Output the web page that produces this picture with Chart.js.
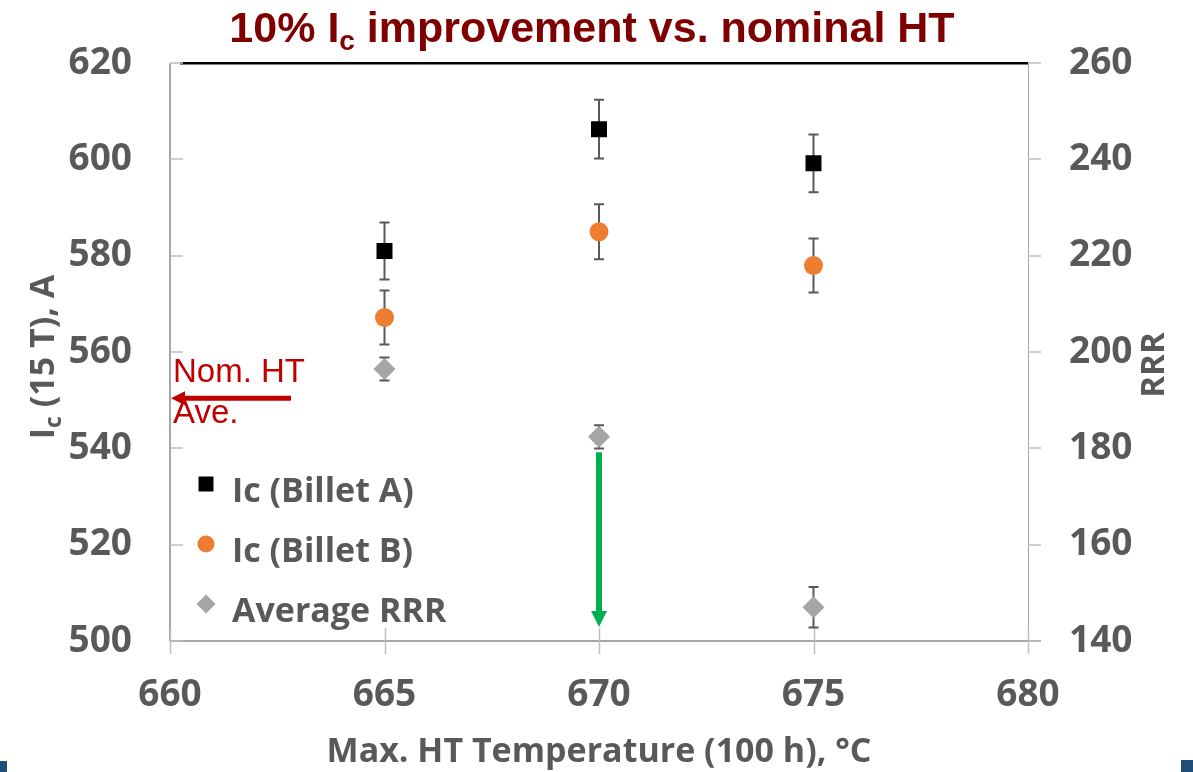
<!DOCTYPE html>
<html>
<head>
<meta charset="utf-8">
<title>Ic vs HT temperature</title>
<script src="https://cdn.jsdelivr.net/npm/chart.js@4.4.1/dist/chart.umd.min.js"></script>
<style>
  html, body { margin: 0; padding: 0; background: #fff; }
  #wrap { position: relative; width: 1193px; height: 772px; overflow: hidden; }
  .corner { position: absolute; background: #1f4e79; }
</style>
</head>
<body>
<div id="wrap">
  <canvas id="c" width="1193" height="772"></canvas>
  <div class="corner" style="left:0;top:761px;width:7px;height:11px"></div>
  <div class="corner" style="left:1181px;top:760px;width:12px;height:12px"></div>
</div>
<script>
// measured points, heat treatment at 665/670/675 C for 100 h
const temps = [665, 670, 675];
const icA = [581.0, 606.3, 599.2];
const icAErr = [5.9, 6.1, 6.0];
const icB = [567.2, 585.0, 578.0];
const icBErr = [5.6, 5.7, 5.6];
const rrr = [196.5, 182.4, 147.0];
const rrrErr = [2.4, 2.4, 4.2];

const xTicks = [660, 665, 670, 675, 680];
const icTicks = [500, 520, 540, 560, 580, 600, 620];
const rrrTicks = [140, 160, 180, 200, 220, 240, 260];

// nominal HT average Ic and the drop marker at 670
const nominalIc = 550.4;
const dropFrom = 539.2, dropTo = 502.9;

const GRAY = '#595959';
const FAM = '"Open Sans", sans-serif';
const TICK_FONT = { family: '"Open Sans"', size: 37, weight: 'bold' };

function pts(ys) {
  return temps.map((t, i) => ({ x: t, y: ys[i] }));
}

const errs = [icAErr, icBErr, rrrErr];

const decor = {
  id: 'decor',
  beforeDatasetsDraw(chart) {
    const ctx = chart.ctx, a = chart.chartArea;
    const xs = chart.scales.x, yl = chart.scales.y, yr = chart.scales.y2;
    ctx.save();
    // frame
    ctx.strokeStyle = '#a6a6a6';
    ctx.lineWidth = 2;
    ctx.beginPath();
    ctx.moveTo(a.left, a.top); ctx.lineTo(a.left, a.bottom);
    ctx.moveTo(a.left, a.bottom); ctx.lineTo(a.right + 13, a.bottom);
    ctx.stroke();
    ctx.lineWidth = 1;
    ctx.beginPath();
    ctx.moveTo(a.right + 0.5, a.top); ctx.lineTo(a.right + 0.5, a.bottom);
    ctx.stroke();
    ctx.strokeStyle = '#000';
    ctx.lineWidth = 2.5;
    ctx.beginPath();
    ctx.moveTo(a.left + 10, a.top); ctx.lineTo(a.right, a.top);
    ctx.stroke();
    // tick marks
    ctx.strokeStyle = '#bfbfbf';
    ctx.lineWidth = 1.5;
    ctx.beginPath();
    xTicks.forEach(v => {
      const px = Math.round(xs.getPixelForValue(v)) + 0.5;
      ctx.moveTo(px, a.bottom - 13); ctx.lineTo(px, a.bottom + 13);
    });
    icTicks.forEach(v => {
      const py = Math.round(yl.getPixelForValue(v));
      ctx.moveTo(a.left, py); ctx.lineTo(a.left + 13, py);
    });
    rrrTicks.forEach(v => {
      const py = Math.round(yr.getPixelForValue(v));
      ctx.moveTo(a.right, py); ctx.lineTo(a.right + 13, py);
    });
    ctx.stroke();
    // error bars
    ctx.strokeStyle = GRAY;
    ctx.lineWidth = 2;
    chart.data.datasets.forEach((ds, di) => {
      const ys = chart.scales[ds.yAxisID];
      ds.data.forEach((p, i) => {
        const px = xs.getPixelForValue(p.x);
        const top = ys.getPixelForValue(p.y + errs[di][i]);
        const bot = ys.getPixelForValue(p.y - errs[di][i]);
        ctx.beginPath();
        ctx.moveTo(px, top); ctx.lineTo(px, bot);
        ctx.moveTo(px - 5, top); ctx.lineTo(px + 5, top);
        ctx.moveTo(px - 5, bot); ctx.lineTo(px + 5, bot);
        ctx.stroke();
      });
    });
    ctx.restore();
  },
  afterDraw(chart) {
    const ctx = chart.ctx, a = chart.chartArea;
    const xs = chart.scales.x, yl = chart.scales.y;
    ctx.save();

    // title with subscript
    ctx.fillStyle = '#7f0000';
    ctx.textBaseline = 'alphabetic';
    const big = 'bold 43px "Liberation Sans", Arial, sans-serif';
    const sub = 'bold 28px "Liberation Sans", Arial, sans-serif';
    const parts = [['10% I', big, 0], ['c', sub, 8], [' improvement vs. nominal HT', big, 0]];
    let w = 0;
    parts.forEach(p => { ctx.font = p[1]; w += ctx.measureText(p[0]).width; });
    let tx = 592 - w / 2;
    parts.forEach(p => {
      ctx.font = p[1];
      ctx.fillText(p[0], tx, 42 + p[2]);
      tx += ctx.measureText(p[0]).width;
    });

    // axis titles
    ctx.fillStyle = GRAY;
    ctx.font = 'bold 34px ' + FAM;
    ctx.textAlign = 'center';
    ctx.fillText('Max. HT Temperature (100 h), \u00b0C', (a.left + a.right) / 2, 762);

    ctx.save();
    ctx.translate(54, 357);
    ctx.rotate(-Math.PI / 2);
    ctx.textAlign = 'left';
    const yParts = [['I', 'bold 34px ' + FAM, 0], ['c', 'bold 23px ' + FAM, 7],
      [' (15 T), A', 'bold 34px ' + FAM, 0]];
    w = 0;
    yParts.forEach(p => { ctx.font = p[1]; w += ctx.measureText(p[0]).width; });
    tx = -w / 2;
    yParts.forEach(p => {
      ctx.font = p[1];
      ctx.fillText(p[0], tx, p[2]);
      tx += ctx.measureText(p[0]).width;
    });
    ctx.restore();

    ctx.save();
    ctx.translate(1164, 365);
    ctx.rotate(-Math.PI / 2);
    ctx.font = 'bold 33px ' + FAM;
    ctx.textAlign = 'center';
    ctx.fillText('RRR', 0, 0);
    ctx.restore();

    // legend inside the plot
    ctx.textAlign = 'left';
    ctx.font = 'bold 34px ' + FAM;
    const legR = [10.6, 8.5, 9.5];
    chart.data.datasets.forEach((ds, i) => {
      const cy = 484 + i * 60;
      ctx.fillStyle = ds.backgroundColor;
      Chart.helpers.drawPoint(ctx, { pointStyle: ds.pointStyle, radius: legR[i], rotation: 0, borderWidth: 0 }, 206, cy);
      ctx.fillStyle = GRAY;
      ctx.fillText(ds.label, 232, cy + 18);
    });

    // nominal HT average marker
    const ny = yl.getPixelForValue(nominalIc);
    ctx.fillStyle = '#c00000';
    ctx.strokeStyle = '#c00000';
    ctx.lineWidth = 5;
    ctx.beginPath();
    ctx.moveTo(291, ny); ctx.lineTo(a.left + 12, ny);
    ctx.stroke();
    ctx.beginPath();
    ctx.moveTo(a.left + 1, ny);
    ctx.lineTo(a.left + 15, ny - 7);
    ctx.lineTo(a.left + 15, ny + 7);
    ctx.closePath();
    ctx.fill();
    ctx.font = '33px "Liberation Sans", Arial, sans-serif';
    ctx.fillText('Nom. HT', 173, 382);
    ctx.fillText('Ave.', 173, 423);

    // drop arrow at 670
    const gx = xs.getPixelForValue(670);
    const gy0 = yl.getPixelForValue(dropFrom), gy1 = yl.getPixelForValue(dropTo);
    ctx.fillStyle = '#00b050';
    ctx.strokeStyle = '#00b050';
    ctx.lineWidth = 6;
    ctx.beginPath();
    ctx.moveTo(gx, gy0); ctx.lineTo(gx, gy1 - 12);
    ctx.stroke();
    ctx.beginPath();
    ctx.moveTo(gx, gy1);
    ctx.lineTo(gx - 8, gy1 - 16);
    ctx.lineTo(gx + 8, gy1 - 16);
    ctx.closePath();
    ctx.fill();

    ctx.restore();
  }
};

new Chart(document.getElementById('c'), {
  type: 'scatter',
  data: {
    datasets: [
      { label: 'Ic (Billet A)', data: pts(icA), yAxisID: 'y', pointStyle: 'rect',
        pointRadius: 11.3, backgroundColor: '#000000', borderWidth: 0 },
      { label: 'Ic (Billet B)', data: pts(icB), yAxisID: 'y', pointStyle: 'circle',
        pointRadius: 9.5, backgroundColor: '#ed7d31', borderWidth: 0 },
      { label: 'Average RRR', data: pts(rrr), yAxisID: 'y2', pointStyle: 'rectRot',
        pointRadius: 11, backgroundColor: '#a5a5a5', borderWidth: 0 }
    ]
  },
  options: {
    responsive: false,
    animation: false,
    devicePixelRatio: 1,
    layout: { padding: { top: 63, left: 0, right: 0, bottom: 0 } },
    plugins: { legend: { display: false }, tooltip: { enabled: false } },
    elements: { point: { hoverRadius: 11 } },
    scales: {
      x: {
        type: 'linear', min: 660, max: 680,
        grid: { display: false, drawTicks: false },
        border: { display: false },
        ticks: { stepSize: 5, font: TICK_FONT, color: GRAY, padding: 32 },
        afterFit: s => { s.height = 131; }
      },
      y: {
        position: 'left', min: 500, max: 620,
        grid: { display: false, drawTicks: false },
        border: { display: false },
        ticks: { stepSize: 20, font: TICK_FONT, color: GRAY, padding: 38 },
        afterFit: s => { s.width = 170; }
      },
      y2: {
        position: 'right', min: 140, max: 260,
        grid: { display: false, drawTicks: false },
        border: { display: false },
        ticks: { stepSize: 20, font: TICK_FONT, color: GRAY, padding: 41 },
        afterFit: s => { s.width = 165; }
      }
    }
  },
  plugins: [decor]
});
</script>
</body>
</html>
